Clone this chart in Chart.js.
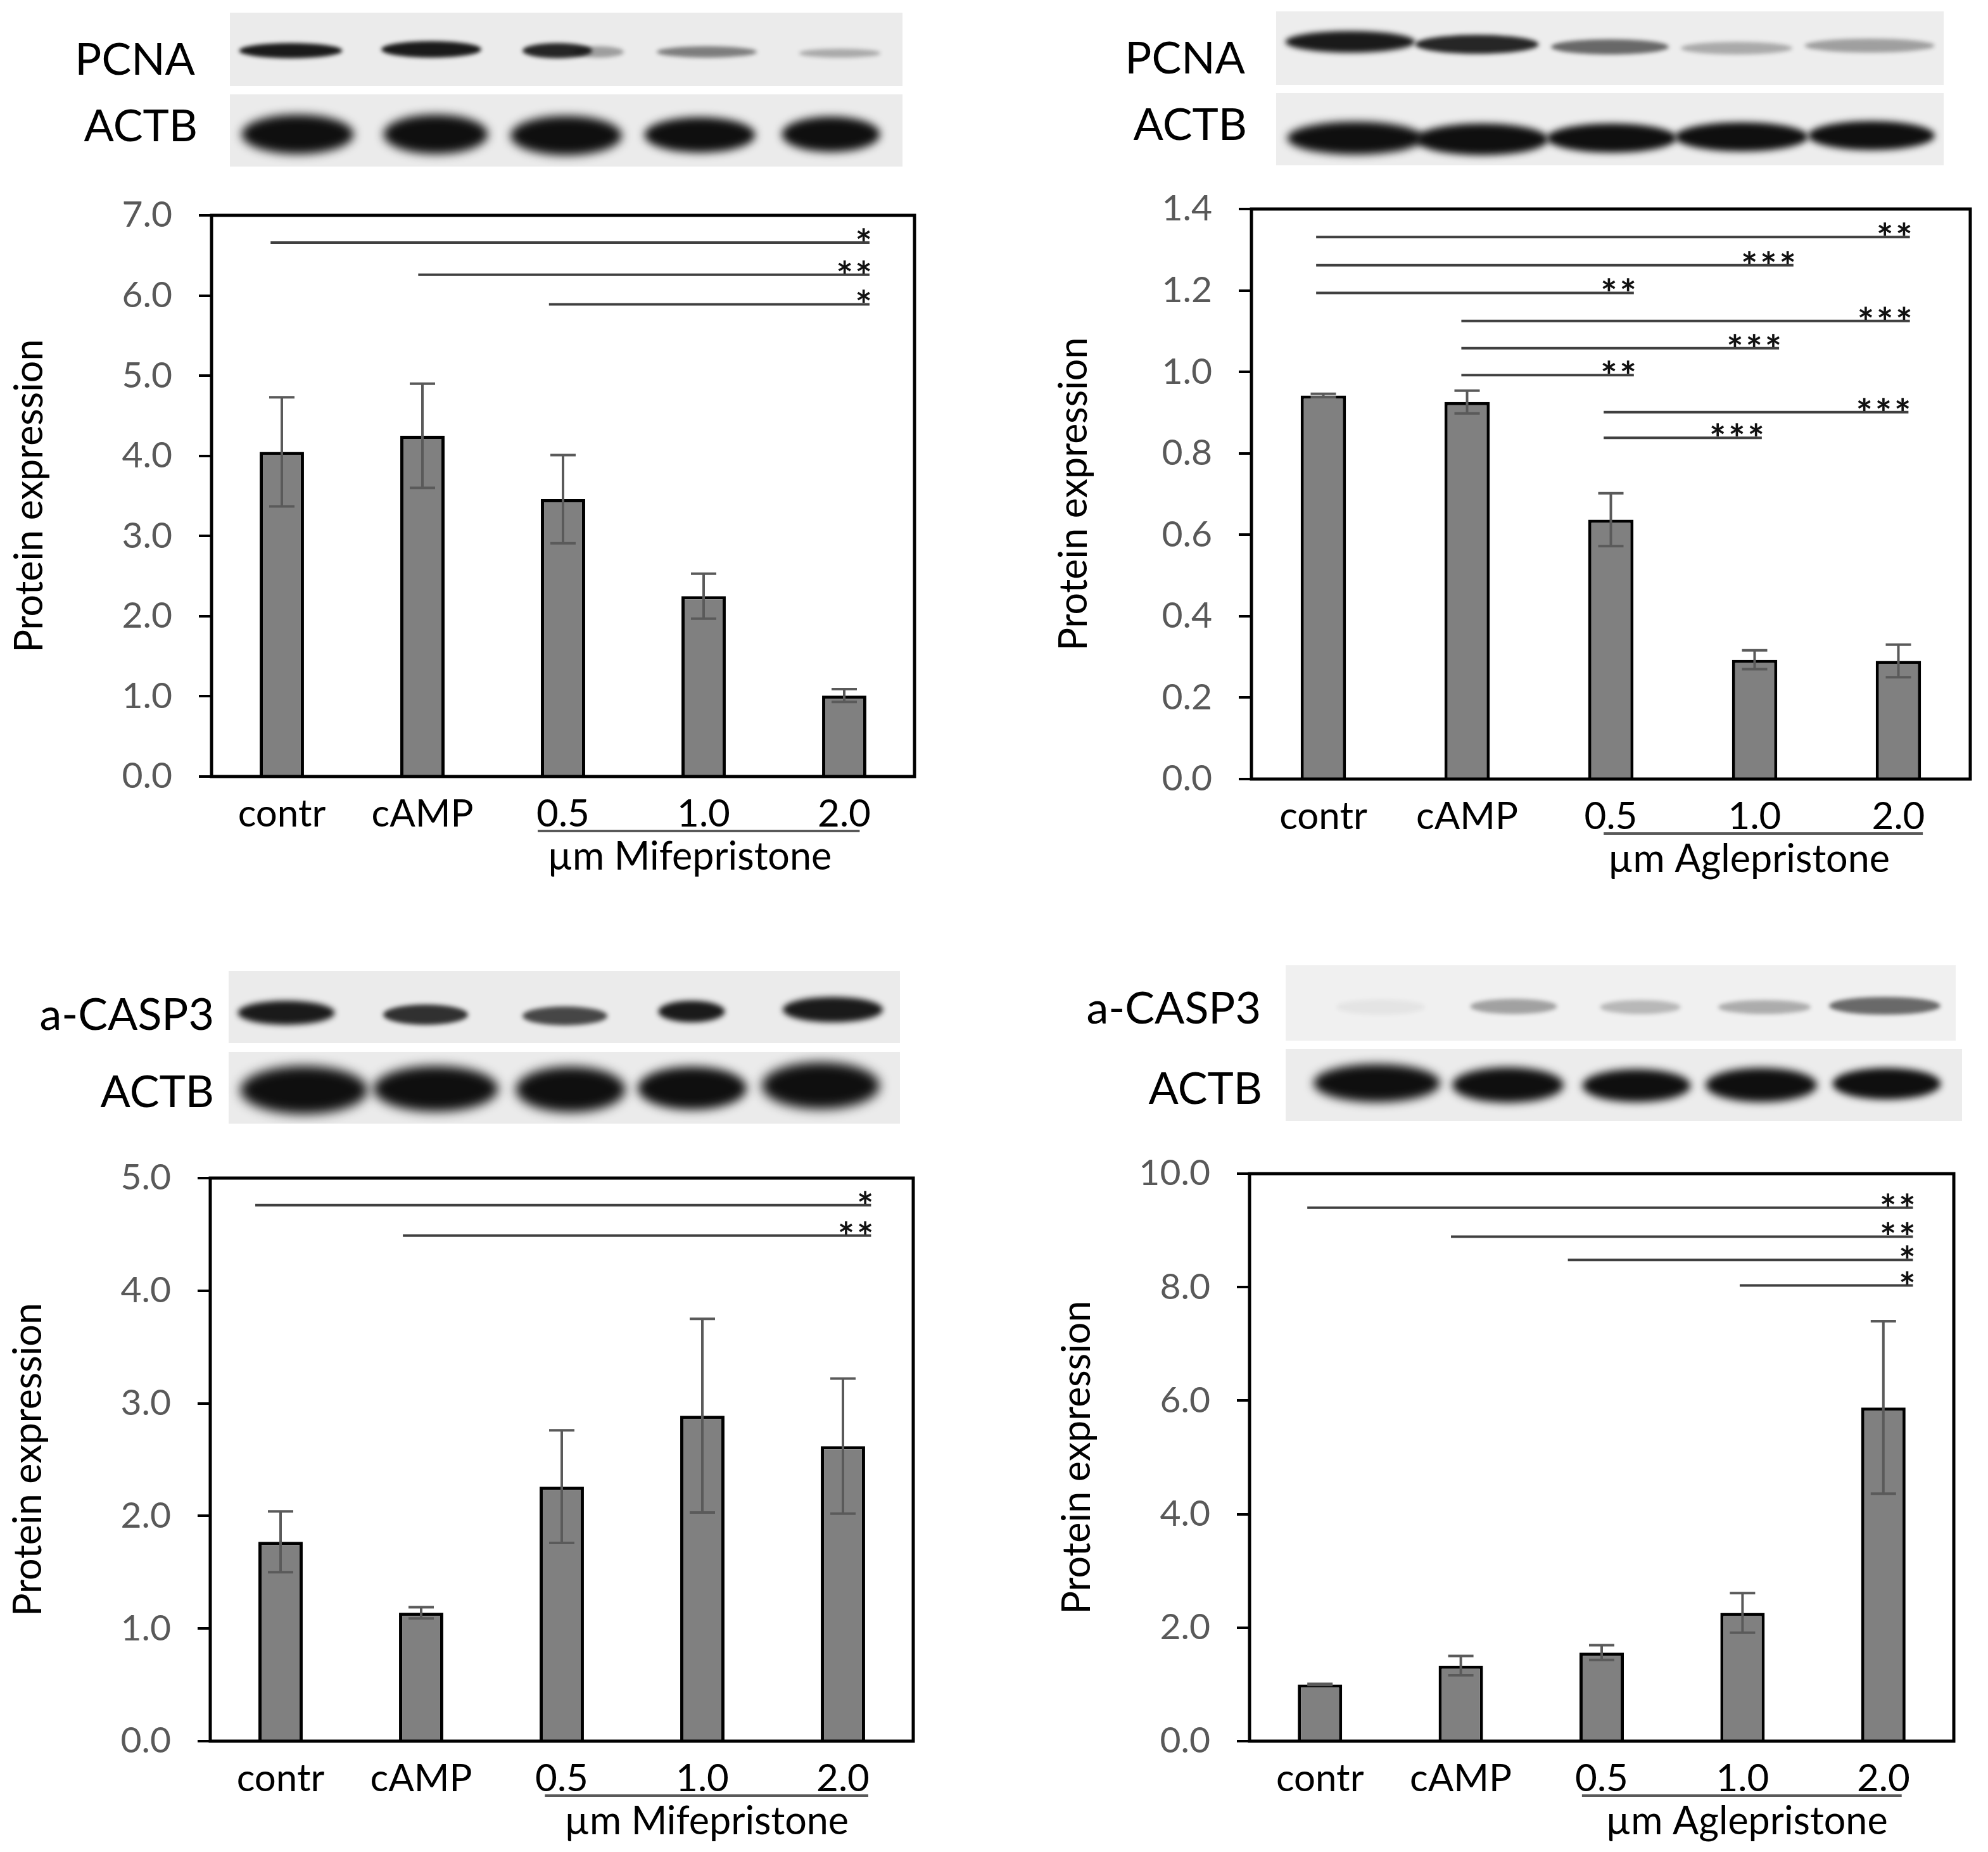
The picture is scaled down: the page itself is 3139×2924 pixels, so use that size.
<!DOCTYPE html>
<html><head><meta charset="utf-8">
<script src="https://cdn.jsdelivr.net/npm/chart.js@4.4.1/dist/chart.umd.min.js"></script>
<style>
html,body{margin:0;padding:0;background:#fff;}
body{width:3139px;height:2924px;position:relative;overflow:hidden;font-family:Lato,sans-serif;}
canvas{position:absolute;}
.lbl{position:absolute;font-family:Lato,sans-serif;font-size:70px;color:#000;line-height:1;white-space:nowrap;transform:translate(-100%,-50%);}
</style></head><body>
<canvas id="blots" width="3139" height="2924" style="left:0;top:0"></canvas>
<canvas id="c1"></canvas><canvas id="c2"></canvas><canvas id="c3"></canvas><canvas id="c4"></canvas>
<script>
// ---------------- DATA ----------------
const categories = ['contr', 'cAMP', '0.5', '1.0', '2.0'];
const yTitle = 'Protein expression';

// PCNA / Mifepristone
const pcnaMifeMean = [4.05, 4.25, 3.46, 2.25, 1.01];
const pcnaMifeErr  = [0.68, 0.65, 0.55, 0.28, 0.08];
// [from category pos, to category pos, level, stars]
const pcnaMifeSig  = [[-0.08, 4.18, 6.66, '*'], [0.97, 4.18, 6.26, '**'], [1.9, 4.18, 5.89, '*']];

// PCNA / Aglepristone
const pcnaAgleMean = [0.942, 0.926, 0.637, 0.293, 0.290];
const pcnaAgleErr  = [0.004, 0.028, 0.065, 0.023, 0.040];
const pcnaAgleSig  = [[-0.05, 4.08, 1.331, '**'], [-0.05, 3.27, 1.262, '***'], [-0.05, 2.16, 1.194, '**'],
                      [0.96, 4.08, 1.125, '***'], [0.96, 3.17, 1.058, '***'], [0.96, 2.16, 0.992, '**'],
                      [1.95, 4.07, 0.901, '***'], [1.95, 3.05, 0.838, '***']];

// a-CASP3 / Mifepristone
const caspMifeMean = [1.77, 1.14, 2.26, 2.89, 2.62];
const caspMifeErr  = [0.27, 0.05, 0.50, 0.86, 0.60];
const caspMifeSig  = [[-0.18, 4.2, 4.76, '*'], [0.87, 4.2, 4.49, '**']];

// a-CASP3 / Aglepristone
const caspAgleMean = [1.00, 1.33, 1.56, 2.26, 5.88];
const caspAgleErr  = [0.01, 0.17, 0.13, 0.35, 1.52];
const caspAgleSig  = [[-0.09, 4.21, 9.40, '**'], [0.93, 4.21, 8.89, '**'], [1.76, 4.21, 8.48, '*'], [2.98, 4.21, 8.03, '*']];

const yMaxes  = [7, 1.4, 5, 10];
const ySteps  = [1, 0.2, 1, 2];
const groupLabels = ['µm Mifepristone', 'µm Aglepristone', 'µm Mifepristone', 'µm Aglepristone'];
const blotNames = [['PCNA', 'ACTB'], ['PCNA', 'ACTB'], ['a-CASP3', 'ACTB'], ['a-CASP3', 'ACTB']];

// ---------------- LAYOUT ----------------
const panels = [
  {id:'c1', box:[334, 340, 1444, 1226], means:pcnaMifeMean, errs:pcnaMifeErr, sig:pcnaMifeSig, yMax:yMaxes[0], yStep:ySteps[0], group:groupLabels[0], groupX:2.9, ul:[1.82, 4.11], titleDx:287},
  {id:'c2', box:[1976, 330, 3111, 1230], means:pcnaAgleMean, errs:pcnaAgleErr, sig:pcnaAgleSig, yMax:yMaxes[1], yStep:ySteps[1], group:groupLabels[1], groupX:2.96, ul:[1.95, 4.17], titleDx:280},
  {id:'c3', box:[332, 1860, 1442, 2749], means:caspMifeMean, errs:caspMifeErr, sig:caspMifeSig, yMax:yMaxes[2], yStep:ySteps[2], group:groupLabels[2], groupX:3.03, ul:[1.88, 4.18], titleDx:287},
  {id:'c4', box:[1973, 1853, 3085, 2749], means:caspAgleMean, errs:caspAgleErr, sig:caspAgleSig, yMax:yMaxes[3], yStep:ySteps[3], group:groupLabels[3], groupX:3.03, ul:[1.86, 4.13], titleDx:272}
];

Chart.defaults.font.family = 'Lato, "Open Sans", sans-serif';
Chart.defaults.animation = false;

function extrasPlugin(p) {
  return {
    id: 'extras',
    afterDatasetsDraw(chart) {
      const ctx = chart.ctx, xs = chart.scales.x, ys = chart.scales.y, ca = chart.chartArea;
      const meta = chart.getDatasetMeta(0);
      ctx.save();
      // error bars
      ctx.strokeStyle = '#5a5a5a'; ctx.lineWidth = 4; ctx.lineCap = 'butt';
      meta.data.forEach((bar, i) => {
        const m = p.means[i], e = p.errs[i];
        const yt = ys.getPixelForValue(m + e), yb = ys.getPixelForValue(m - e);
        ctx.beginPath();
        ctx.moveTo(bar.x, yt); ctx.lineTo(bar.x, yb);
        ctx.moveTo(bar.x - 20, yt); ctx.lineTo(bar.x + 20, yt);
        ctx.moveTo(bar.x - 20, yb); ctx.lineTo(bar.x + 20, yb);
        ctx.stroke();
      });
      // significance lines
      ctx.strokeStyle = '#404040'; ctx.lineWidth = 4;
      ctx.fillStyle = '#111'; ctx.font = 'bold 62px Lato'; ctx.textAlign = 'right'; ctx.textBaseline = 'alphabetic';
      p.sig.forEach(s => {
        const x0 = xs.getPixelForValue(s[0]), x1 = xs.getPixelForValue(s[1]), y = ys.getPixelForValue(s[2]);
        ctx.beginPath(); ctx.moveTo(x0, y); ctx.lineTo(x1, y); ctx.stroke();
        ctx.fillText(s[3].split('').join('\u200A'), x1 + 4, y + 24);
      });
      // frame
      ctx.strokeStyle = '#000'; ctx.lineWidth = 5;
      ctx.strokeRect(ca.left, ca.top, ca.right - ca.left, ca.bottom - ca.top);
      // group underline & label
      ctx.strokeStyle = '#595959'; ctx.lineWidth = 4;
      const u0 = xs.getPixelForValue(p.ul[0]), u1 = xs.getPixelForValue(p.ul[1]);
      ctx.beginPath(); ctx.moveTo(u0, ca.bottom + 86); ctx.lineTo(u1, ca.bottom + 86); ctx.stroke();
      ctx.fillStyle = '#000'; ctx.font = '61px Lato'; ctx.textAlign = 'center'; ctx.textBaseline = 'middle';
      ctx.fillText(p.group, xs.getPixelForValue(p.groupX), ca.bottom + 127);
      ctx.restore();
    }
  };
}

function makePanel(p) {
  const W = 330, T = 110, R = 40, B = 180;
  const [l, t, r, b] = p.box;
  const cv = document.getElementById(p.id);
  cv.width = W + (r - l) + R; cv.height = T + (b - t) + B;
  cv.style.left = (l - W) + 'px'; cv.style.top = (t - T) + 'px';
  const chart = new Chart(cv, {
    type: 'bar',
    data: {labels: categories, datasets: [{data: p.means, backgroundColor: '#808080', borderColor: '#000', borderWidth: 5, barPercentage: 0.315, categoryPercentage: 1}]},
    options: {
      responsive: false, animation: false,
      layout: {padding: {left: 0, top: T, right: R, bottom: 0}},
      plugins: {legend: {display: false}, tooltip: {enabled: false}},
      scales: {
        x: {grid: {display: false}, border: {display: false},
            ticks: {color: '#000', font: {size: 60}, padding: 16, maxRotation: 0, autoSkip: false},
            afterFit(s) { s.height = B; }},
        y: {min: 0, max: p.yMax,
            ticks: {stepSize: p.yStep, color: '#595959', font: {size: 57}, padding: 42, callback: v => Number(v).toFixed(1)},
            grid: {drawOnChartArea: false, drawTicks: true, tickLength: 20, color: '#000', lineWidth: 4},
            border: {display: false},
            title: {display: true, text: yTitle, color: '#000', font: {size: 61, lineHeight: 1}, padding: {top: W - p.titleDx - 30.5, bottom: 0}},
            afterFit(s) { s.width = W; }}
      }
    },
    plugins: [extrasPlugin(p)]
  });
}
panels.forEach(makePanel);

// ---------------- WESTERN BLOT PICTURES (decoration) ----------------
// rect: [x, y, w, h]; bands: [cx, cy, w, h, alpha]
const blots = [
  {rect:[363, 20, 1062, 116], bg:'#ebebeb', bands:[[459,80,163,24,.95],[681,78,158,26,.95],[880,80,110,24,.9],[945,82,80,18,.35],[1116,82,158,18,.5],[1326,84,129,14,.3]]},
  {rect:[363, 149, 1062, 114], bg:'#ebebeb', bands:[[470,212,177,62,1],[688,212,165,62,1],[894,214,176,62,1],[1105,213,175,56,1],[1312,212,155,56,1]]},
  {rect:[2015, 18, 1054, 116], bg:'#ededed', bands:[[2132,66,205,34,.95],[2332,70,195,30,.9],[2542,74,186,24,.6],[2742,76,176,20,.3],[2952,72,205,22,.35]]},
  {rect:[2015, 147, 1054, 114], bg:'#ededed', bands:[[2140,218,215,52,1],[2340,220,210,50,1],[2545,218,205,46,1],[2750,216,210,46,1],[2955,214,200,46,1]]},
  {rect:[361, 1533, 1060, 114], bg:'#ebebeb', bands:[[452,1599,153,38,.95],[672,1602,134,32,.85],[892,1604,134,30,.75],[1092,1597,105,34,.95],[1315,1594,158,40,.95]]},
  {rect:[361, 1661, 1060, 113], bg:'#ebebeb', bands:[[480,1721,201,76,1],[688,1719,197,72,1],[901,1720,173,72,1],[1093,1718,172,68,1],[1296,1714,186,74,1]]},
  {rect:[2030, 1524, 1058, 119], bg:'#f0f0f0', bands:[[2180,1590,140,24,.05],[2390,1589,137,24,.35],[2590,1590,127,22,.25],[2786,1590,146,22,.3],[2976,1588,176,28,.6]]},
  {rect:[2030, 1656, 1068, 114], bg:'#ececec', bands:[[2174,1710,200,60,1],[2381,1713,176,56,1],[2584,1714,171,52,1],[2781,1713,176,54,1],[2979,1711,171,50,1]]}
];
(function drawBlots() {
  const ctx = document.getElementById('blots').getContext('2d');
  blots.forEach(bl => {
    const [x, y, w, h] = bl.rect;
    ctx.save();
    ctx.fillStyle = bl.bg; ctx.fillRect(x, y, w, h);
    ctx.beginPath(); ctx.rect(x, y, w, h); ctx.clip();
    bl.bands.forEach(bd => {
      const [cx, cy, bw, bh, a] = bd;
      ctx.filter = 'blur(' + Math.max(3, bh * 0.12) + 'px)';
      ctx.fillStyle = 'rgba(15,15,15,' + a + ')';
      ctx.beginPath();
      ctx.ellipse(cx, cy, bw / 2, bh / 2, 0, 0, Math.PI * 2);
      ctx.fill();
    });
    ctx.restore();
  });
})();

// blot labels
const labelPos = [[308, 91, 312, 196], [1966, 89, 1969, 194], [338, 1599, 338, 1721], [1991, 1589, 1993, 1716]];
labelPos.forEach((lp, i) => {
  [[lp[0], lp[1], blotNames[i][0]], [lp[2], lp[3], blotNames[i][1]]].forEach(q => {
    const d = document.createElement('div');
    d.className = 'lbl'; d.textContent = q[2];
    d.style.left = q[0] + 'px'; d.style.top = q[1] + 'px';
    document.body.appendChild(d);
  });
});
</script>
</body></html>
